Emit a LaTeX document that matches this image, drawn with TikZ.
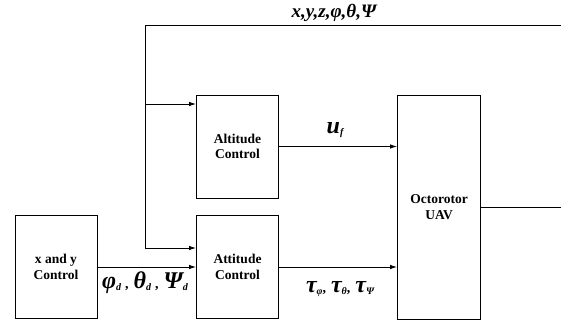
\documentclass[tikz,border=0pt]{standalone}
\usepackage{fontspec}
\setmainfont{Liberation Serif}
\usetikzlibrary{arrows.meta}
\newcommand{\bigbi}[1]{{\fontsize{19}{22}\selectfont\bfseries\itshape #1}}
\newcommand{\grk}[1]{{\fontsize{24}{26}\selectfont\bfseries\itshape #1}}
\newcommand{\subbi}[1]{\raisebox{-2pt}{\fontsize{10}{11}\selectfont\bfseries\itshape #1}}
\newcommand{\cm}{{\fontsize{14}{14}\selectfont\bfseries ,}}
\begin{document}
\begin{tikzpicture}[x=1pt,y=-1pt,
  blk/.style={draw, line width=0.9pt, align=center, inner sep=0pt,
    font=\fontsize{13.5}{15.5}\selectfont\bfseries,
    minimum width=82pt, minimum height=103pt},
  line/.style={line width=0.9pt},
  arr/.style={line width=0.9pt, -{Latex[length=7pt,width=4.5pt]}},
  lbl/.style={inner sep=0pt}]
\useasboundingbox (0,0) rectangle (561,328);
\node[blk] (xy) at (56,267) {x and y\\Control};
\node[blk] (alt) at (237.5,146.5) {Altitude\\Control};
\node[blk] (att) at (237.5,267) {Attitude\\Control};
\node[blk, minimum width=83pt, minimum height=224pt] (uav) at (439,207) {Octorotor\\UAV};
\coordinate (tr) at (561,25);
\coordinate (tl) at (145,25);
\coordinate (fb1) at (145,104);
\coordinate (fb2) at (145,248);
\coordinate (out) at (561,207);
\draw[line] (tr) -- (tl) -- (fb2);
\draw[arr] (fb1) -- (alt.west |- fb1);
\draw[arr] (fb2) -- (att.west |- fb2);
\draw[arr] (xy.east) -- (att.west);
\draw[arr] (alt.east) -- (uav.west |- alt.east);
\draw[arr] (att.east) -- (uav.west |- att.east);
\draw[line] (uav.east |- out) -- (out);
\node[lbl] (state) at (334,13) {\bigbi{x,y,z,φ,θ,Ψ}};
\node[lbl] (uf) at (335,130) {\grk{u}\subbi{f}};
\node[lbl] (des) at (145,283) {\grk{φ}\subbi{d}\hspace{4pt}\cm\hspace{5pt}\grk{θ}\subbi{d}\hspace{4pt}\cm\hspace{5pt}\grk{Ψ}\subbi{d}};
\node[lbl] (tau) at (340,289) {\grk{τ}\subbi{φ}\cm\hspace{5pt}\grk{τ}\subbi{θ}\cm\hspace{5pt}\grk{τ}\subbi{Ψ}};
\end{tikzpicture}
\end{document}
